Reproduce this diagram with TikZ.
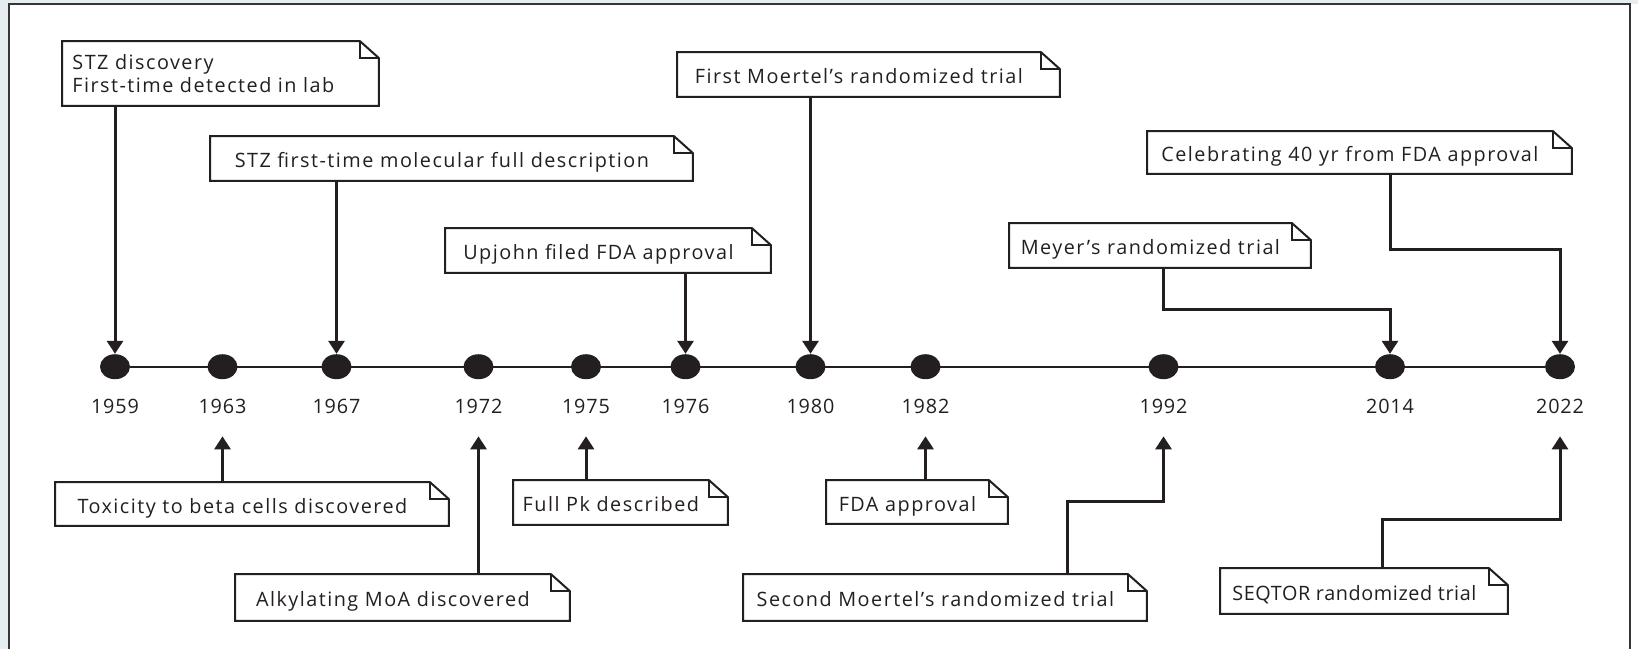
\documentclass[tikz,border=0pt]{standalone}
\usepackage{fontspec}
\setmainfont{Open Sans}
\newfontfamily\noteFamily[LetterSpace=7.5]{Open Sans}
\newfontfamily\tightFamily[LetterSpace=3]{Open Sans}
\newfontfamily\yearFamily[LetterSpace=4.5]{Open Sans}
\usepackage{xcolor}
\usepackage{tikz}
\usetikzlibrary{arrows.meta,shapes.geometric}
\definecolor{ink}{HTML}{231F20}
\definecolor{pageBg}{HTML}{E6EDF0}
\definecolor{frameLine}{HTML}{353535}
\newcommand{\noteFont}{\noteFamily\fontsize{9.9}{11.3}\selectfont}
\newcommand{\yearFont}{\yearFamily\fontsize{9.9}{11.3}\selectfont}
\tikzset{
  noteBox/.style={anchor=north west, minimum height=22pt, inner sep=0pt, text=ink, font=\noteFont, align=left},
  noteOne/.style={noteBox, text height=11.5pt, text depth=2pt},
  noteLine/.style={draw=ink, line width=1pt},
  yearDot/.style={ellipse, fill=ink, minimum width=15pt, minimum height=12.5pt, inner sep=0pt},
  yearLabel/.style={text=ink, font=\yearFont},
  axisLine/.style={draw=ink, line width=1.2pt},
  linkArrow/.style={draw=ink, line width=1.5pt, -{Triangle[width=8pt,length=6.5pt]}}
}

\begin{document}
\begin{tikzpicture}[x=0.5pt, y=-0.5pt]
  \useasboundingbox (0,0) rectangle (1638,649);
  \fill[pageBg] (0,0) rectangle (1638,649);
  \fill[white] (9,3.5) rectangle (1638,649);
  \draw[frameLine, line width=1pt] (9,649) -- (9,3.5) -- (1630,3.5) -- (1630,649);

  \foreach \yr/\xx in {1959/115, 1963/222.5, 1967/336.5, 1972/478.5, 1975/586, 1976/685.5,
                       1980/810.5, 1982/925.5, 1992/1163.5, 2014/1390, 2022/1560} {
    \node[yearDot] (d\yr) at (\xx,366.7) {};
    \node[yearLabel] (t\yr) at (\xx,406) {\yr};
  }
  \draw[axisLine] (d1959) -- (d2022);

  \node[noteBox, minimum height=32pt, text width=138.5pt, inner xsep=5pt] (discovery) at (62,41)
    {STZ discovery\\First-time detected in lab};
  \node[noteOne, minimum width=231.5pt] (molecular) at (210,136) {STZ first-time molecular full description};
  \node[noteOne, minimum width=153pt] (upjohn) at (445,228) {Upjohn filed FDA approval};
  \node[noteOne, minimum width=181.5pt] (firstTrial) at (677,52) {First Moertel’s randomized trial};
  \node[noteOne, minimum width=141pt] (meyer) at (1009,223) {Meyer’s randomized trial};
  \node[noteOne, minimum width=202.5pt, minimum height=21pt] (celebrate) at (1147,131) {Celebrating 40 yr from FDA approval};

  \node[noteOne, minimum width=187pt, minimum height=21.5pt] (toxicity) at (55,482) {Toxicity to beta cells discovered};
  \node[noteOne, minimum width=157.5pt, minimum height=23pt] (alkylating) at (235,574) {Alkylating MoA discovered};
  \node[noteOne, minimum width=97.5pt] (fullPk) at (513,480) {Full Pk described};
  \node[noteOne, minimum width=81pt, minimum height=21.5pt] (fdaApproval) at (826,480) {FDA approval};
  \node[noteOne, minimum width=192pt, minimum height=23pt] (secondTrial) at (743,574) {Second Moertel’s randomized trial};
  \node[noteOne, minimum width=134pt, minimum height=22.5pt, font=\tightFamily\fontsize{9.9}{11.3}\selectfont] (seqtor) at (1220,568)
    {SEQTOR randomized trial};

  \foreach \n in {discovery, molecular, upjohn, firstTrial, meyer, celebrate,
                  toxicity, alkylating, fullPk, fdaApproval, secondTrial, seqtor} {
    \draw[noteLine] (\n.north west) -- (\n.north east) -- ([xshift=9.5pt,yshift=-8.5pt]\n.north east)
      |- (\n.south west) -- cycle;
    \draw[noteLine] (\n.north east) |- ([xshift=9.5pt,yshift=-8.5pt]\n.north east);
  }

  \draw[linkArrow] (discovery.south -| d1959) -- (d1959.north);
  \draw[linkArrow] (molecular.south -| d1967) -- (d1967.north);
  \draw[linkArrow] (upjohn.south -| d1976) -- (d1976.north);
  \draw[linkArrow] (firstTrial.south -| d1980) -- (d1980.north);
  \draw[linkArrow] (meyer.south -| d1992) -- ++(0,42) -| (d2014.north);
  \draw[linkArrow] (celebrate.south -| d2014) -- ++(0,76) -| (d2022.north);

  \draw[linkArrow] (toxicity.north -| t1963) -- ([yshift=-8pt]t1963.south);
  \draw[linkArrow] (alkylating.north -| t1972) -- ([yshift=-8pt]t1972.south);
  \draw[linkArrow] (fullPk.north -| t1975) -- ([yshift=-8pt]t1975.south);
  \draw[linkArrow] (fdaApproval.north -| t1982) -- ([yshift=-8pt]t1982.south);
  \draw[linkArrow] (1067.6,0 |- secondTrial.north) -- ++(0,-72.6) -| ([yshift=-8pt]t1992.south);
  \draw[linkArrow] (1382,0 |- seqtor.north) -- ++(0,-49) -| ([yshift=-8pt]t2022.south);
\end{tikzpicture}
\end{document}
